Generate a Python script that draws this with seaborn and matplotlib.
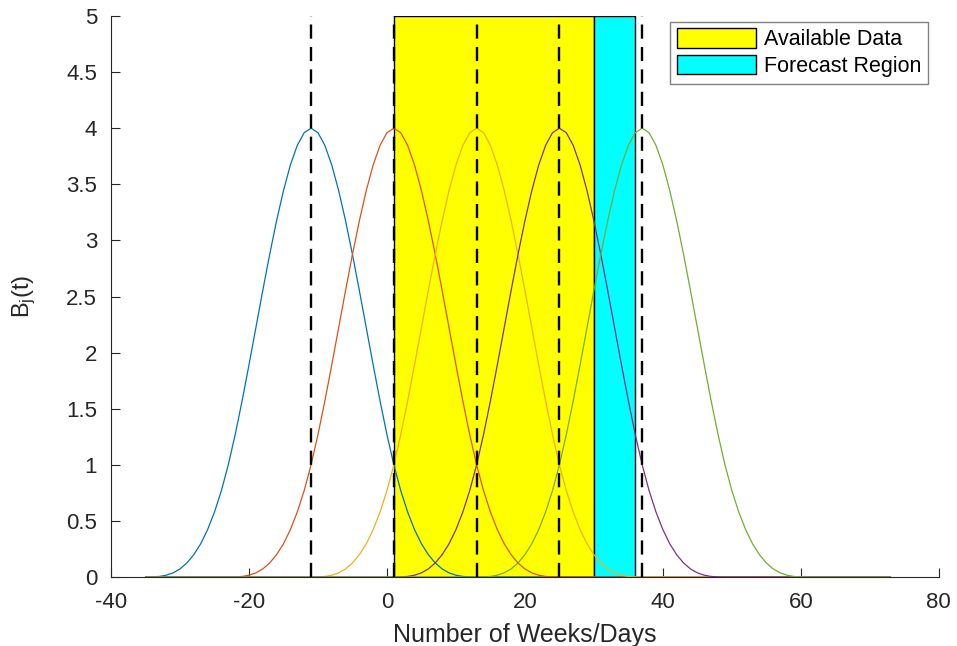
import numpy as np
import pandas as pd
import matplotlib
matplotlib.use("Agg")
import matplotlib.pyplot as plt
from matplotlib.ticker import FuncFormatter
import seaborn as sns

# Basis function value at 0..24 weeks from its centre (symmetric on both sides)
basis_profile = [4.000, 3.960, 3.847, 3.672, 3.444, 3.175, 2.875, 2.554, 2.222,
                 1.891, 1.569, 1.269, 1.000, 0.770, 0.579, 0.422, 0.296, 0.199,
                 0.125, 0.072, 0.037, 0.016, 0.005, 0.001, 0.000]
basis_centers = [-11, 1, 13, 25, 37]
basis_names = ["B1", "B2", "B3", "B4", "B5"]
basis_colors = ["#0072BD", "#D95319", "#EDB120", "#7E2F8E", "#77AC30"]
t_start, t_end = -35, 73

available_range = (1, 30)
forecast_range = (30, 36)
region_top = 5

xticks = [-40, -20, 0, 20, 40, 60, 80]
yticks = [0, 0.5, 1, 1.5, 2, 2.5, 3, 3.5, 4, 4.5, 5]

# Long-form table of every basis curve over the week grid
t_grid = np.arange(t_start, t_end + 1)
rows = []
for name, c in zip(basis_names, basis_centers):
    for t in t_grid:
        d = abs(int(t) - c)
        v = basis_profile[d] if d < len(basis_profile) else 0.0
        rows.append((t, v, name))
df = pd.DataFrame(rows, columns=["t", "B", "basis"])

sns.set_theme(style="ticks")
plt.rcParams["font.family"] = ["Liberation Sans", "DejaVu Sans"]
plt.rcParams["mathtext.default"] = "regular"
plt.rcParams["axes.unicode_minus"] = False

ink = "#262626"
fig = plt.figure(figsize=(9.57, 6.46), dpi=100)
ax = fig.add_axes([0.116, 0.1068, 0.865, 0.8684])

# Shaded data / forecast windows
ax.bar(available_range[0], region_top, width=available_range[1] - available_range[0],
       align="edge", color="#FFFF00", edgecolor="black", linewidth=1.0,
       label="Available Data", zorder=1)
ax.bar(forecast_range[0], region_top, width=forecast_range[1] - forecast_range[0],
       align="edge", color="#00FFFF", edgecolor="black", linewidth=1.0,
       label="Forecast Region", zorder=1)

sns.lineplot(data=df, x="t", y="B", hue="basis", palette=basis_colors,
             estimator=None, legend=False, linewidth=0.9, ax=ax, zorder=2)

ax.vlines(basis_centers, 0, region_top, colors="black", linewidth=1.7,
          linestyles=(0, (6, 3.5)), zorder=3)

ax.set_xlim(xticks[0], xticks[-1])
ax.set_ylim(yticks[0], yticks[-1])
ax.set_xticks(xticks)
ax.set_yticks(yticks)
ax.yaxis.set_major_formatter(FuncFormatter(lambda v, _: f"{v:g}"))
ax.tick_params(direction="in", length=6.5, width=0.8, colors=ink,
               labelsize=16, labelcolor=ink)
ax.tick_params(axis="x", pad=11)
ax.tick_params(axis="y", pad=10)
sns.despine(ax=ax)
for s in ("left", "bottom"):
    ax.spines[s].set_color(ink)
    ax.spines[s].set_linewidth(0.8)

ax.set_xlabel("Number of Weeks/Days", fontsize=18, color=ink, labelpad=7)
ax.set_ylabel("$B_j(t)$", fontsize=17, color=ink, labelpad=20)

leg = ax.legend(loc="upper right", bbox_to_anchor=(0.9867, 0.9893), fontsize=15.5,
                handlelength=3.7, handleheight=1.0, handletextpad=0.35,
                borderpad=0.3, labelspacing=0.22, borderaxespad=0.0,
                fancybox=False, framealpha=1, edgecolor="#808080")
leg.get_frame().set_linewidth(1.0)
for txt in leg.get_texts():
    txt.set_color("black")

fig.savefig("out.png", dpi=100)
